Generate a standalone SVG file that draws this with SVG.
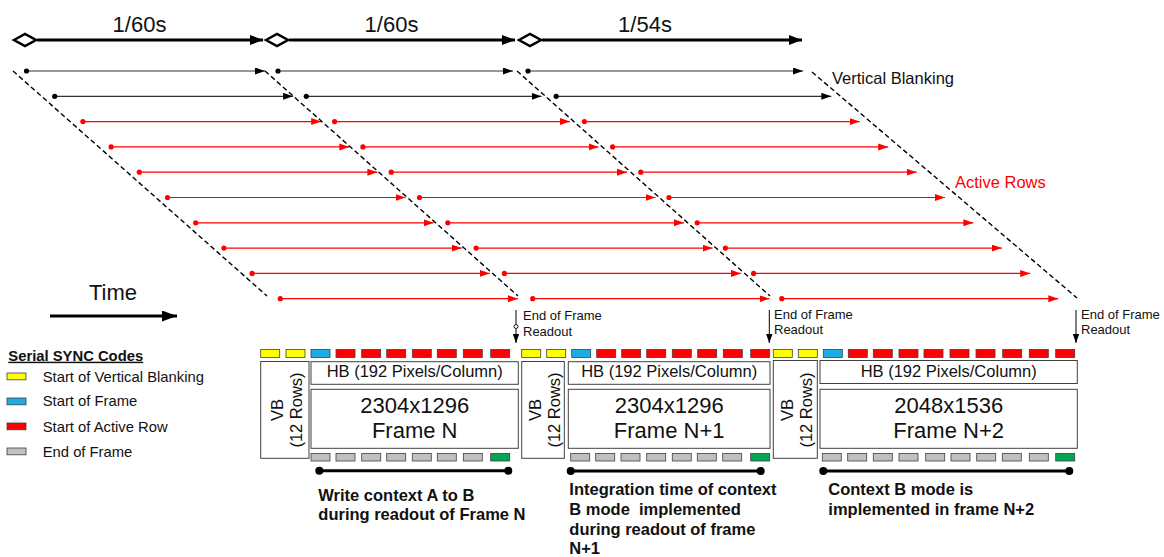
<svg xmlns="http://www.w3.org/2000/svg" width="1164" height="557" viewBox="0 0 1164 557">
<defs>
<style>
text{font-family:"Liberation Sans",Arial,sans-serif;fill:#111}
.big{font-size:22px}
.mid{font-size:16.5px}
.sm{font-size:13px}
.bold{font-weight:bold;font-size:16.5px}
.lg{font-size:14.8px}
.red{fill:#ff0000}
.box{fill:#fff;stroke:#404040;stroke-width:1}
.s{stroke:#404040;stroke-width:0.8}
.y{fill:#ffff00}
.b{fill:#1cabe2}
.r{fill:#ff0000}
.g{fill:#c0c0c0}
.gn{fill:#00a651}
.rowk{stroke:#333;stroke-width:1.2;fill:none}
.rowr{stroke:#ff0000;stroke-width:1.2;fill:none}
.dash{stroke:#000;stroke-width:1.4;stroke-dasharray:5 3;fill:none}
.thick{stroke:#000;stroke-width:3;fill:none}
.dk{fill:#000}
.dr{fill:#ff0000}
.eof{stroke:#000;stroke-width:1;fill:none}
</style>
<marker id="ak" markerUnits="userSpaceOnUse" markerWidth="11" markerHeight="8" refX="10" refY="3.5" orient="auto"><path d="M0,0 L10,3.5 L0,7 z" fill="#000"/></marker>
<marker id="ar" markerUnits="userSpaceOnUse" markerWidth="11" markerHeight="8" refX="10" refY="3.5" orient="auto"><path d="M0,0 L10,3.5 L0,7 z" fill="#ff0000"/></marker>
<marker id="abig" markerUnits="userSpaceOnUse" markerWidth="14" markerHeight="11" refX="13" refY="5" orient="auto"><path d="M0,0 L13,5 L0,10 z" fill="#000"/></marker>
<marker id="atime" markerUnits="userSpaceOnUse" markerWidth="16" markerHeight="12" refX="15" refY="5.5" orient="auto"><path d="M0,0 L15,5.5 L0,11 z" fill="#000"/></marker>
<marker id="asm" markerUnits="userSpaceOnUse" markerWidth="10" markerHeight="8" refX="9" refY="3.2" orient="auto"><path d="M0,0 L9,3.2 L0,6.4 z" fill="#000"/></marker>
</defs>

<g id="timeline">
<line class="thick" x1="37" y1="40" x2="263" y2="40" marker-end="url(#abig)"/>
<line class="thick" x1="289" y1="40" x2="515" y2="40" marker-end="url(#abig)"/>
<line class="thick" x1="542" y1="40" x2="802" y2="40" marker-end="url(#abig)"/>
<path d="M14,40 L25,34 L36,40 L25,46 z" fill="#fff" stroke="#000" stroke-width="2.5"/>
<path d="M266,40 L277,34 L288,40 L277,46 z" fill="#fff" stroke="#000" stroke-width="2.5"/>
<path d="M519,40 L530,34 L541,40 L530,46 z" fill="#fff" stroke="#000" stroke-width="2.5"/>
<text class="big" x="139.5" y="32" text-anchor="middle">1/60s</text>
<text class="big" x="391.5" y="32" text-anchor="middle">1/60s</text>
<text class="big" x="645" y="32" text-anchor="middle">1/54s</text>
</g>

<g id="time-label">
<text class="big" x="89" y="300">Time</text>
<line x1="50" y1="316" x2="177" y2="316" stroke="#000" stroke-width="2.8" marker-end="url(#atime)"/>
</g>

<g id="connectors">
<!-- frame 1 rows -->
<line class="rowk" stroke="#555" x1="26.5" y1="71" x2="265" y2="71" marker-end="url(#ak)"/>
<line class="rowk" x1="54.7" y1="96.3" x2="293.1" y2="96.3" marker-end="url(#ak)"/>
<line class="rowr" x1="82.9" y1="121.6" x2="321.2" y2="121.6" marker-end="url(#ar)"/>
<line class="rowr" x1="111.1" y1="146.9" x2="349.3" y2="146.9" marker-end="url(#ar)"/>
<line class="rowr" x1="139.3" y1="172.2" x2="377.4" y2="172.2" marker-end="url(#ar)"/>
<line class="rowr" x1="167.5" y1="197.5" x2="405.5" y2="197.5" marker-end="url(#ar)"/>
<line class="rowr" x1="195.7" y1="222.8" x2="433.6" y2="222.8" marker-end="url(#ar)"/>
<line class="rowr" x1="223.9" y1="248.1" x2="461.7" y2="248.1" marker-end="url(#ar)"/>
<line class="rowr" x1="252.1" y1="273.4" x2="489.8" y2="273.4" marker-end="url(#ar)"/>
<line class="rowr" x1="280.3" y1="298.7" x2="517.9" y2="298.7" marker-end="url(#ar)"/>
<!-- frame 2 rows -->
<line class="rowk" x1="278" y1="71" x2="513" y2="71" marker-end="url(#ak)"/>
<line class="rowk" x1="306.3" y1="96.3" x2="541.5" y2="96.3" marker-end="url(#ak)"/>
<line class="rowr" x1="334.6" y1="121.6" x2="570" y2="121.6" marker-end="url(#ar)"/>
<line class="rowr" x1="362.9" y1="146.9" x2="598.5" y2="146.9" marker-end="url(#ar)"/>
<line class="rowr" x1="391.2" y1="172.2" x2="627" y2="172.2" marker-end="url(#ar)"/>
<line class="rowr" x1="419.5" y1="197.5" x2="655.5" y2="197.5" marker-end="url(#ar)"/>
<line class="rowr" x1="447.8" y1="222.8" x2="684" y2="222.8" marker-end="url(#ar)"/>
<line class="rowr" x1="476.1" y1="248.1" x2="712.5" y2="248.1" marker-end="url(#ar)"/>
<line class="rowr" x1="504.4" y1="273.4" x2="741" y2="273.4" marker-end="url(#ar)"/>
<line class="rowr" x1="532.7" y1="298.7" x2="769.5" y2="298.7" marker-end="url(#ar)"/>
<!-- frame 3 rows -->
<line class="rowk" stroke="#555" x1="528" y1="71" x2="803" y2="71" marker-end="url(#ak)"/>
<line class="rowk" stroke="#444" x1="556.2" y1="96.3" x2="831.3" y2="96.3" marker-end="url(#ak)"/>
<line class="rowr" x1="584.4" y1="121.6" x2="859.8" y2="121.6" marker-end="url(#ar)"/>
<line class="rowr" x1="612.6" y1="146.9" x2="888.2" y2="146.9" marker-end="url(#ar)"/>
<line class="rowr" x1="640.8" y1="172.2" x2="916.6" y2="172.2" marker-end="url(#ar)"/>
<line class="rowr" x1="669" y1="197.5" x2="945" y2="197.5" marker-end="url(#ar)"/>
<line class="rowr" x1="697.2" y1="222.8" x2="973.4" y2="222.8" marker-end="url(#ar)"/>
<line class="rowr" x1="725.4" y1="248.1" x2="1001.8" y2="248.1" marker-end="url(#ar)"/>
<line class="rowr" x1="753.6" y1="273.4" x2="1030.2" y2="273.4" marker-end="url(#ar)"/>
<line class="rowr" x1="781.8" y1="298.7" x2="1058.3" y2="298.7" marker-end="url(#ar)"/>
<!-- start dots -->
<g class="dk">
<circle cx="26.5" cy="71" r="2.6"/><circle cx="54.7" cy="96.3" r="2.6"/>
<circle cx="278" cy="71" r="2.6"/><circle cx="306.3" cy="96.3" r="2.6"/>
<circle cx="528" cy="71" r="2.6"/><circle cx="556.2" cy="96.3" r="2.6"/>
</g>
<g class="dr">
<circle cx="82.9" cy="121.6" r="2.6"/><circle cx="111.1" cy="146.9" r="2.6"/><circle cx="139.3" cy="172.2" r="2.6"/><circle cx="167.5" cy="197.5" r="2.6"/><circle cx="195.7" cy="222.8" r="2.6"/><circle cx="223.9" cy="248.1" r="2.6"/><circle cx="252.1" cy="273.4" r="2.6"/><circle cx="280.3" cy="298.7" r="2.6"/>
<circle cx="334.6" cy="121.6" r="2.6"/><circle cx="362.9" cy="146.9" r="2.6"/><circle cx="391.2" cy="172.2" r="2.6"/><circle cx="419.5" cy="197.5" r="2.6"/><circle cx="447.8" cy="222.8" r="2.6"/><circle cx="476.1" cy="248.1" r="2.6"/><circle cx="504.4" cy="273.4" r="2.6"/><circle cx="532.7" cy="298.7" r="2.6"/>
<circle cx="584.4" cy="121.6" r="2.6"/><circle cx="612.6" cy="146.9" r="2.6"/><circle cx="640.8" cy="172.2" r="2.6"/><circle cx="669" cy="197.5" r="2.6"/><circle cx="697.2" cy="222.8" r="2.6"/><circle cx="725.4" cy="248.1" r="2.6"/><circle cx="753.6" cy="273.4" r="2.6"/><circle cx="781.8" cy="298.7" r="2.6"/>
</g>
<!-- dashed frame boundaries -->
<line class="dash" x1="13" y1="71" x2="267" y2="296"/>
<line class="dash" x1="265" y1="71" x2="518" y2="296"/>
<line class="dash" x1="517" y1="71" x2="770" y2="296"/>
<line class="dash" x1="812" y1="72" x2="1077" y2="298"/>
<!-- end of frame readout arrows -->
<line class="eof" x1="516" y1="310" x2="516" y2="324.5"/>
<circle cx="516" cy="326.5" r="2" fill="#fff" stroke="#000" stroke-width="0.9"/>
<line class="eof" x1="516" y1="328.5" x2="516" y2="343" marker-end="url(#asm)"/>
<line class="eof" x1="769.3" y1="310" x2="769.3" y2="343" marker-end="url(#asm)"/>
<line class="eof" x1="1076" y1="310" x2="1076" y2="343" marker-end="url(#asm)"/>
<!-- bottom bars -->
<line x1="319.3" y1="470.8" x2="508.3" y2="470.8" stroke="#000" stroke-width="3"/>
<circle cx="319.3" cy="470.8" r="4" class="dk"/><circle cx="508.3" cy="470.8" r="4" class="dk"/>
<line x1="570.7" y1="471" x2="760.7" y2="471" stroke="#000" stroke-width="3"/>
<circle cx="570.7" cy="471" r="4" class="dk"/><circle cx="760.7" cy="471" r="4" class="dk"/>
<line x1="823.3" y1="471" x2="1069.3" y2="471" stroke="#000" stroke-width="3"/>
<circle cx="823.3" cy="471" r="4" class="dk"/><circle cx="1069.3" cy="471" r="4" class="dk"/>
</g>

<g id="row-labels">
<text class="mid" x="832" y="84">Vertical Blanking</text>
<text class="mid red" x="955" y="188">Active Rows</text>
<text class="sm" x="523" y="320">End of Frame</text>
<text class="sm" x="523" y="336">Readout</text>
<text class="sm" x="774" y="318.5">End of Frame</text>
<text class="sm" x="774" y="334">Readout</text>
<text class="sm" x="1081" y="318.5">End of Frame</text>
<text class="sm" x="1081" y="334">Readout</text>
</g>

<g id="legend">
<text class="lg" x="8.3" y="360.7" font-weight="bold" text-decoration="underline">Serial SYNC Codes</text>
<rect class="s y" x="7" y="373" width="19" height="6.8"/>
<rect class="s b" x="7" y="398" width="19" height="6.8"/>
<rect class="s r" x="7" y="423" width="19" height="6.8"/>
<rect class="s g" x="7" y="448" width="19" height="6.8"/>
<text class="lg" x="42.7" y="381.7">Start of Vertical Blanking</text>
<text class="lg" x="42.7" y="406.3">Start of Frame</text>
<text class="lg" x="42.7" y="431.7">Start of Active Row</text>
<text class="lg" x="42.7" y="456.7">End of Frame</text>
</g>

<g id="frame-n">
<rect class="s y" x="260.7" y="349.5" width="19" height="8"/>
<rect class="s y" x="286" y="349.5" width="19" height="8"/>
<rect class="s b" x="311" y="349.5" width="19" height="8"/>
<rect class="s r" x="336" y="349.5" width="19" height="8"/>
<rect class="s r" x="361.7" y="349.5" width="19" height="8"/>
<rect class="s r" x="386.7" y="349.5" width="19" height="8"/>
<rect class="s r" x="412.3" y="349.5" width="19" height="8"/>
<rect class="s r" x="437.3" y="349.5" width="19" height="8"/>
<rect class="s r" x="463.3" y="349.5" width="19" height="8"/>
<rect class="s r" x="490.7" y="349.5" width="19" height="8"/>
<rect class="box" x="260.7" y="361.5" width="48.3" height="96.8"/>
<text class="mid" transform="translate(283,410) rotate(-90)" text-anchor="middle">VB</text>
<text class="mid" transform="translate(302,410) rotate(-90)" text-anchor="middle">(12 Rows)</text>
<rect class="box" x="311" y="361.7" width="207.3" height="22.6"/>
<text class="mid" x="414.7" y="377.3" text-anchor="middle">HB (192 Pixels/Column)</text>
<rect class="box" x="311" y="389.3" width="207.3" height="59"/>
<text class="big" x="414.7" y="412.7" text-anchor="middle">2304x1296</text>
<text class="big" x="414.7" y="438.3" text-anchor="middle">Frame N</text>
<rect class="s g" x="311" y="453.5" width="19" height="7.5"/>
<rect class="s g" x="336" y="453.5" width="19" height="7.5"/>
<rect class="s g" x="361.7" y="453.5" width="19" height="7.5"/>
<rect class="s g" x="386.7" y="453.5" width="19" height="7.5"/>
<rect class="s g" x="412.3" y="453.5" width="19" height="7.5"/>
<rect class="s g" x="437.3" y="453.5" width="19" height="7.5"/>
<rect class="s g" x="463.3" y="453.5" width="19" height="7.5"/>
<rect class="s gn" x="490.7" y="453.5" width="19" height="7.5"/>
<text class="bold" x="318.3" y="500.7">Write context A to B</text>
<text class="bold" x="318.3" y="520">during readout of Frame N</text>
</g>

<g id="frame-n1">
<rect class="s y" x="521.7" y="349.5" width="19" height="8"/>
<rect class="s y" x="546.7" y="349.5" width="19" height="8"/>
<rect class="s b" x="571.7" y="349.5" width="19" height="8"/>
<rect class="s r" x="596.7" y="349.5" width="19" height="8"/>
<rect class="s r" x="621.7" y="349.5" width="19" height="8"/>
<rect class="s r" x="646.7" y="349.5" width="19" height="8"/>
<rect class="s r" x="672.3" y="349.5" width="19" height="8"/>
<rect class="s r" x="697.7" y="349.5" width="19" height="8"/>
<rect class="s r" x="723.3" y="349.5" width="19" height="8"/>
<rect class="s r" x="750.7" y="349.5" width="19" height="8"/>
<rect class="box" x="521.7" y="361.5" width="42.6" height="96.8"/>
<text class="mid" transform="translate(541,410) rotate(-90)" text-anchor="middle">VB</text>
<text class="mid" transform="translate(560,410) rotate(-90)" text-anchor="middle">(12 Rows)</text>
<rect class="box" x="568.3" y="361.7" width="201.7" height="22.6"/>
<text class="mid" x="669.2" y="377.3" text-anchor="middle">HB (192 Pixels/Column)</text>
<rect class="box" x="568.3" y="389.3" width="201.7" height="59"/>
<text class="big" x="669.2" y="412.7" text-anchor="middle">2304x1296</text>
<text class="big" x="669.2" y="438.3" text-anchor="middle">Frame N+1</text>
<rect class="s g" x="570.7" y="453.5" width="19" height="7.5"/>
<rect class="s g" x="595.7" y="453.5" width="19" height="7.5"/>
<rect class="s g" x="621" y="453.5" width="19" height="7.5"/>
<rect class="s g" x="646.7" y="453.5" width="19" height="7.5"/>
<rect class="s g" x="672.3" y="453.5" width="19" height="7.5"/>
<rect class="s g" x="697.3" y="453.5" width="19" height="7.5"/>
<rect class="s g" x="722.7" y="453.5" width="19" height="7.5"/>
<rect class="s gn" x="750.7" y="453.5" width="19" height="7.5"/>
<text class="bold" x="569.3" y="495">Integration time of context</text>
<text class="bold" x="569.3" y="514.5" xml:space="preserve">B mode  implemented</text>
<text class="bold" x="569.3" y="534.7">during readout of frame</text>
<text class="bold" x="569.3" y="554.3">N+1</text>
</g>

<g id="frame-n2">
<rect class="s y" x="773.3" y="349.5" width="19" height="8"/>
<rect class="s y" x="798.3" y="349.5" width="19" height="8"/>
<rect class="s b" x="823.3" y="349.5" width="19" height="8"/>
<rect class="s r" x="848.3" y="349.5" width="19" height="8"/>
<rect class="s r" x="873.3" y="349.5" width="19" height="8"/>
<rect class="s r" x="899" y="349.5" width="19" height="8"/>
<rect class="s r" x="924" y="349.5" width="19" height="8"/>
<rect class="s r" x="950" y="349.5" width="19" height="8"/>
<rect class="s r" x="976" y="349.5" width="19" height="8"/>
<rect class="s r" x="1002.7" y="349.5" width="19" height="8"/>
<rect class="s r" x="1029.3" y="349.5" width="19" height="8"/>
<rect class="s r" x="1055.7" y="349.5" width="19" height="8"/>
<rect class="box" x="773.3" y="360.5" width="44" height="97.8"/>
<text class="mid" transform="translate(793,410) rotate(-90)" text-anchor="middle">VB</text>
<text class="mid" transform="translate(812,410) rotate(-90)" text-anchor="middle">(12 Rows)</text>
<rect class="box" x="820" y="360.5" width="257.3" height="23"/>
<text class="mid" x="948.7" y="376.5" text-anchor="middle">HB (192 Pixels/Column)</text>
<rect class="box" x="820" y="389.3" width="257.3" height="59"/>
<text class="big" x="948.7" y="412.7" text-anchor="middle">2048x1536</text>
<text class="big" x="948.7" y="438.3" text-anchor="middle">Frame N+2</text>
<rect class="s g" x="822.3" y="453.5" width="19" height="7.5"/>
<rect class="s g" x="847.7" y="453.5" width="19" height="7.5"/>
<rect class="s g" x="873.3" y="453.5" width="19" height="7.5"/>
<rect class="s g" x="899" y="453.5" width="19" height="7.5"/>
<rect class="s g" x="925.7" y="453.5" width="19" height="7.5"/>
<rect class="s g" x="951" y="453.5" width="19" height="7.5"/>
<rect class="s g" x="976.7" y="453.5" width="19" height="7.5"/>
<rect class="s g" x="1002.3" y="453.5" width="19" height="7.5"/>
<rect class="s g" x="1029.3" y="453.5" width="19" height="7.5"/>
<rect class="s gn" x="1055.7" y="453.5" width="19" height="7.5"/>
<text class="bold" x="828.3" y="495">Context B mode is</text>
<text class="bold" x="828.3" y="514.5">implemented in frame N+2</text>
</g>
</svg>
